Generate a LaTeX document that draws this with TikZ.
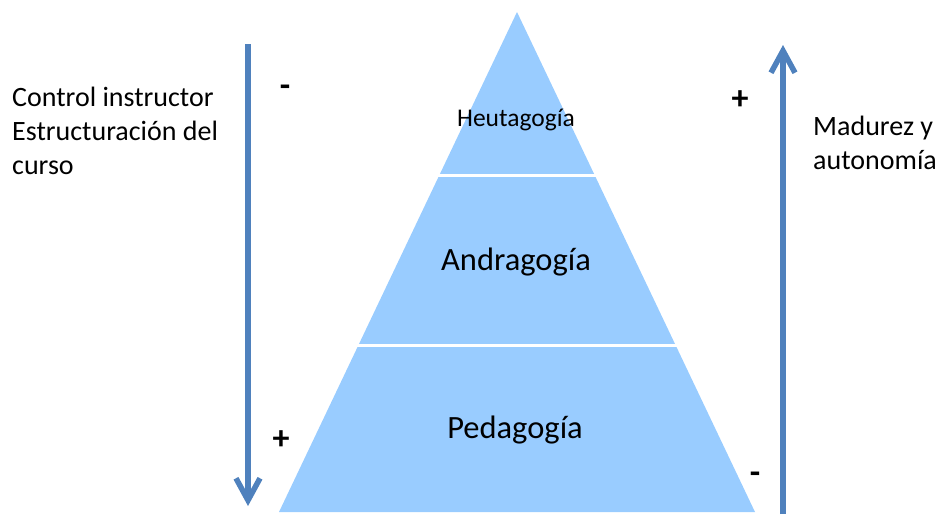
\documentclass[tikz,border=0pt]{standalone}
\usepackage{fontspec}
\setmainfont{Carlito}
\usetikzlibrary{arrows.meta}
\definecolor{pyrfill}{RGB}{153,204,255}
\definecolor{arrowblue}{RGB}{79,129,189}
\begin{document}
\begin{tikzpicture}[x=1pt,y=-1pt,
  bigarrow/.style={draw=arrowblue,line width=5.5pt,
    -{Straight Barb[length=22pt,width=24pt,line width=5.5pt]}},
  sidetext/.style={anchor=west,font=\fontsize{28}{34}\selectfont,align=left,inner sep=0pt},
  levellabel/.style={font=\fontsize{32.5}{36}\selectfont,inner sep=0pt},
  sign/.style={font=\bfseries\fontsize{34}{36}\selectfont,inner sep=0pt}]
\useasboundingbox (0,0) rectangle (939,514);
% pyramid
\coordinate (apex) at (517,12);
\coordinate (bl) at (279,512);
\coordinate (br) at (755,512);
\fill[pyrfill] (apex) -- (br) -- (bl) -- cycle;
% separators between levels
\draw[white,line width=3pt] (430,175) -- (604,175);
\draw[white,line width=3pt] (350,345) -- (684,345);
% level labels
\node[font=\fontsize{25.5}{28}\selectfont,inner sep=0pt] (heu) at (516,120) {Heutagogía};
\node[levellabel] (andra) at (516,262) {Andragogía};
\node[levellabel] (peda) at (515,430) {Pedagogía};
% arrows
\coordinate (la1) at (248,44);
\coordinate (la2) at (248,506);
\coordinate (ra1) at (783,514);
\coordinate (ra2) at (783,45);
\draw[bigarrow] (la1) -- (la2);
\draw[bigarrow] (ra1) -- (ra2);
% signs
\node[sign] (s1) at (285,91) {-};
\node[sign] (s2) at (740,100) {+};
\node[sign] (s3) at (281,440) {+};
\node[sign] (s4) at (755,478) {-};
% side texts
\node[sidetext] (lt) at (12,131) {Control instructor\\Estructuración del\\curso};
\node[sidetext] (rt) at (813,143) {Madurez y\\autonomía};
\end{tikzpicture}
\end{document}
